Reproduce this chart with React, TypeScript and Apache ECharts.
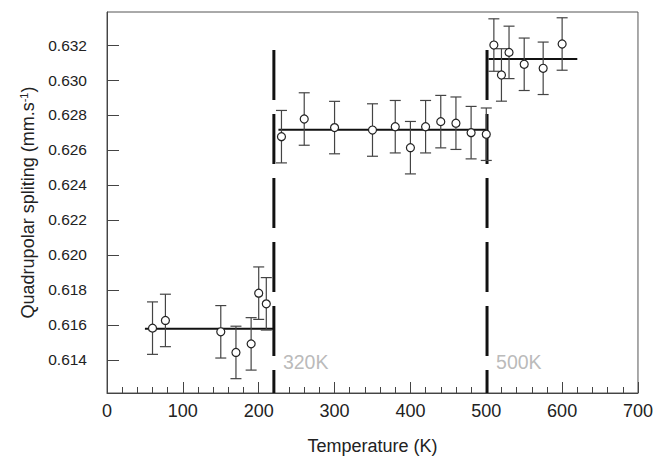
import React, { useEffect, useRef } from "react";
import * as echarts from "echarts";

// Temperatures (K) and quadrupolar splitting (mm/s)
const lowT = [60, 77, 150, 170, 190, 200, 210];
const lowQ = [0.61581, 0.61625, 0.6156, 0.61442, 0.61491, 0.61781, 0.6172];
const midT = [230, 260, 300, 350, 380, 400, 420, 440, 460, 480, 500];
const midQ = [0.62676, 0.62777, 0.62728, 0.62714, 0.62733, 0.62613, 0.62733, 0.62762, 0.62753, 0.62699, 0.6269];
const highT = [510, 520, 530, 550, 575, 600];
const highQ = [0.632, 0.63029, 0.63158, 0.6309, 0.63067, 0.63206];
const errHalf = 0.0015;

// Fitted plateaus: [startT, endT, value]
const lowFit = [50, 220, 0.61577];
const midFit = [226, 501, 0.62715];
const highFit = [503, 620, 0.6312];

// Transition markers
const transitionT = [220, 501];
const transitionLabels = ["320K", "500K"];
const transitionTop = 0.63171;
const labelY = 0.61389;

const yTicks = [0.614, 0.616, 0.618, 0.62, 0.622, 0.624, 0.626, 0.628, 0.63, 0.632];
const yMin = 0.6121;
const yMax = 0.63389;

const FONT = "'Liberation Sans', Arial, sans-serif";

export default function App() {
  const ref = useRef<HTMLDivElement>(null);
  useEffect(() => {
    if (!ref.current) return;
    const chart = echarts.init(ref.current, null, { renderer: "svg" });
    const allPts = [
      ...lowT.map((t, i) => [t, lowQ[i]]),
      ...midT.map((t, i) => [t, midQ[i]]),
      ...highT.map((t, i) => [t, highQ[i]]),
    ];
    const fitSeries = [lowFit, midFit, highFit].map((f) => ({
      type: "line",
      data: [
        [f[0], f[2]],
        [f[1], f[2]],
      ],
      symbol: "none",
      lineStyle: { color: "#111", width: 2 },
      z: 3,
      silent: true,
    }));
    const dashSeries = transitionT.map((t) => ({
      type: "line",
      data: [
        [t, transitionTop],
        [t, yMin],
      ],
      symbol: "none",
      lineStyle: { color: "#111", width: 3, type: [50, 14] },
      z: 4,
      silent: true,
    }));
    chart.setOption({
      animation: false,
      textStyle: { fontFamily: FONT },
      grid: {
        left: 107,
        right: 18,
        top: 12,
        bottom: 67,
        show: true,
        borderColor: "#555",
        borderWidth: 1,
        backgroundColor: "transparent",
      },
      xAxis: {
        type: "value",
        min: 0,
        max: 700,
        interval: 100,
        name: "Temperature (K)",
        nameLocation: "middle",
        nameGap: 44,
        nameTextStyle: { fontSize: 18, color: "#222", fontFamily: FONT },
        axisLine: { show: true, onZero: false, lineStyle: { color: "#444" } },
        axisTick: { show: true, inside: true, length: 11, lineStyle: { color: "#444" } },
        minorTick: { show: true, splitNumber: 5, length: 6, lineStyle: { color: "#444" } },
        axisLabel: { fontSize: 18, color: "#222", margin: 9, fontFamily: FONT },
        splitLine: { show: false },
      },
      yAxis: {
        type: "value",
        min: yMin,
        max: yMax,
        name: "Quadrupolar spliting (mm.s{sup|-1})",
        nameLocation: "middle",
        nameGap: 68,
        nameTextStyle: {
          fontSize: 18,
          color: "#222",
          fontFamily: FONT,
          rich: { sup: { fontSize: 11, verticalAlign: "bottom", padding: [0, 0, 9, 0], color: "#222" } },
        },
        axisLine: { show: true, onZero: false, lineStyle: { color: "#444" } },
        axisTick: { show: true, inside: true, length: 12, customValues: yTicks, lineStyle: { color: "#444" } },
        axisLabel: {
          fontSize: 15.5,
          color: "#222",
          margin: 20,
          fontFamily: FONT,
          customValues: yTicks,
          formatter: (v: number) => v.toFixed(3),
        },
        splitLine: { show: false },
      },
      series: [
        ...dashSeries,
        ...fitSeries,
        {
          type: "custom",
          data: allPts,
          encode: { x: 0, y: 1 },
          z: 5,
          silent: true,
          renderItem: (params: any, api: any) => {
            const x = api.value(0);
            const y = api.value(1);
            const top = api.coord([x, y + errHalf]);
            const bot = api.coord([x, y - errHalf]);
            const cw = 5.5;
            const st = { stroke: "#444", lineWidth: 1.2 };
            return {
              type: "group",
              children: [
                { type: "line", shape: { x1: top[0], y1: top[1], x2: bot[0], y2: bot[1] }, style: st },
                { type: "line", shape: { x1: top[0] - cw, y1: top[1], x2: top[0] + cw, y2: top[1] }, style: st },
                { type: "line", shape: { x1: bot[0] - cw, y1: bot[1], x2: bot[0] + cw, y2: bot[1] }, style: st },
              ],
            };
          },
        },
        {
          type: "scatter",
          data: allPts,
          symbol: "circle",
          symbolSize: 8,
          itemStyle: { color: "#fff", borderColor: "#222", borderWidth: 1.2, opacity: 1 },
          z: 6,
          silent: true,
        },
        {
          type: "scatter",
          data: transitionT.map((t, i) => [t, labelY, transitionLabels[i]]),
          symbolSize: 0,
          silent: true,
          label: {
            show: true,
            position: "right",
            distance: 9,
            formatter: (p: any) => p.value[2],
            fontSize: 19.5,
            color: "#a8a8a8",
            fontFamily: FONT,
          },
          z: 7,
        },
      ],
    });
    return () => chart.dispose();
  }, []);
  return (
    <div
      ref={ref}
      style={{ position: "fixed", left: 0, top: 0, width: 656, height: 460, background: "#fff" }}
    />
  );
}
